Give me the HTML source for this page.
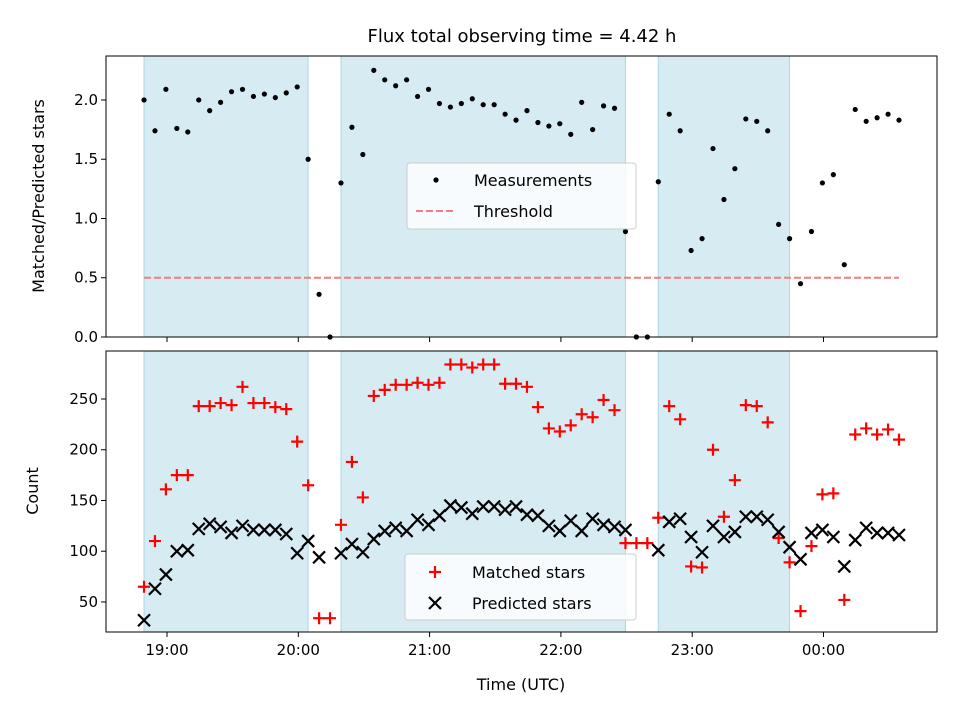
<!DOCTYPE html>
<html><head><meta charset="utf-8"><style>
body{margin:0;background:#fff}
svg{display:block;font-family:"DejaVu Sans","Liberation Sans",sans-serif}
</style></head><body>
<svg id="c" width="960" height="720" viewBox="0 0 960 720"></svg>
<script>
const times=[49.5,54.5,59.5,64.5,69.5,74.5,79.5,84.5,89.5,94.5,99.5,104.5,109.5,114.5,119.5,124.5,129.5,134.5,139.5,144.5,149.5,154.5,159.5,164.5,169.5,174.5,179.5,184.5,189.5,194.5,199.5,204.5,209.5,214.5,219.5,224.5,229.5,234.5,239.5,244.5,249.5,254.5,259.5,264.5,269.5,274.5,279.5,284.5,289.5,294.5,299.5,304.5,309.5,314.5,319.5,324.5,329.5,334.5,339.5,344.5,349.5,354.5,359.5,364.5,369.5,374.5,379.5,384.5,389.5,394.5];
const ratio=[2.0,1.74,2.09,1.76,1.73,2.0,1.91,1.98,2.07,2.09,2.03,2.05,2.02,2.06,2.11,1.50,0.36,0,1.30,1.77,1.54,2.25,2.17,2.12,2.17,2.03,2.09,1.97,1.94,1.97,2.01,1.96,1.96,1.88,1.83,1.91,1.81,1.78,1.80,1.71,1.98,1.75,1.95,1.93,0.89,0,0,1.31,1.88,1.74,0.73,0.83,1.59,1.16,1.42,1.84,1.82,1.74,0.95,0.83,0.45,0.89,1.30,1.37,0.61,1.92,1.82,1.85,1.88,1.83];
const matched=[65,110,161,175,175,243,243,246,244,262,246,246,242,240,208,165,34,34,126,188,153,253,259,264,264,266,264,266,284,284,281,284,284,265,265,262,242,221,218,224,235,232,249,239,108,108,108,133,243,230,85,84,200,134,170,244,243,227,113,89,41,105,156,157,52,215,221,215,220,210];
const predicted=[32,63,77,100,101,122,127,124,118,125,121,121,121,117,98,110,94,null,98,107,99,112,120,123,120,131,126,135,145,143,137,144,144,141,144,136,135,125,120,130,120,132,126,124,121,null,null,101,129,132,114,99,125,114,119,134,134,131,119,104,92,118,121,114,85,111,123,118,118,116];
const spans=[[49.5,124.5],[139.5,269.5],[284.5,344.5]];
const threshold=0.5;
const xTicks=[60,120,180,240,300,360];
const xTickLabels=["19:00","20:00","21:00","22:00","23:00","00:00"];
const topTicks=[0,0.5,1.0,1.5,2.0];
const botTicks=[50,100,150,200,250];

const NS="http://www.w3.org/2000/svg";
const svg=document.getElementById('c');
function el(t,a,p){const e=document.createElementNS(NS,t);for(const k in a)e.setAttribute(k,a[k]);(p||svg).appendChild(e);return e;}
const L=106,R=937;
const X=m=>167+(m-60)*131.3/60;
const T={t:56,b:337,min:0,max:2.371};
const B={t:351,b:632,min:20.4,max:297.3};
const Y=(ax,v)=>ax.b-(v-ax.min)/(ax.max-ax.min)*(ax.b-ax.t);

function axesBg(ax,name){
  const g=el('g',{});
  
  
  spans.forEach((s,i)=>{
    const r=el('rect',{x:X(s[0]),y:ax.t,width:X(s[1])-X(s[0]),height:ax.b-ax.t,fill:'#add8e6','fill-opacity':0.5,stroke:'#add8e6','stroke-width':1},g);
    
    
  });
  return g;
}
function frame(ax,ticks,fmt,labelsX,name){
  const g=el('g',{});
  
  
  el('rect',{x:L,y:ax.t,width:R-L,height:ax.b-ax.t,fill:'none',stroke:'#000','stroke-width':1},g);
  ticks.forEach(v=>{const y=Y(ax,v);el('line',{x1:L-5,x2:L,y1:y,y2:y,stroke:'#000'},g);
    const t=el('text',{x:L-8,y:y+5,'text-anchor':'end','font-size':15},g);t.textContent=fmt(v);
    });
  xTicks.forEach((m,i)=>{const x=X(m);el('line',{x1:x,x2:x,y1:ax.b,y2:ax.b+5,stroke:'#000'},g);
    if(labelsX){const t=el('text',{x:x,y:ax.b+23,'text-anchor':'middle','font-size':15},g);t.textContent=xTickLabels[i];
    }});
}
// top
axesBg(T,'top-spans');
const th=el('line',{x1:X(times[0]),x2:X(times[times.length-1]),y1:Y(T,threshold),y2:Y(T,threshold),stroke:'#f08080','stroke-width':2,'stroke-dasharray':'7,3'});

ratio.forEach((v,i)=>{if(v==null)return;const c=el('circle',{cx:X(times[i]),cy:Y(T,v),r:2.6,fill:'#000'});
  });
frame(T,topTicks,v=>v.toFixed(1),false,'top-axes');
// bottom
axesBg(B,'bottom-spans');
matched.forEach((v,i)=>{if(v==null)return;const x=X(times[i]),y=Y(B,v);
  const p=el('path',{d:`M${x-6} ${y}H${x+6}M${x} ${y-6}V${y+6}`,stroke:'#f00','stroke-width':2.2});
  });
predicted.forEach((v,i)=>{if(v==null)return;const x=X(times[i]),y=Y(B,v);
  const p=el('path',{d:`M${x-6} ${y-6}L${x+6} ${y+6}M${x-6} ${y+6}L${x+6} ${y-6}`,stroke:'#000','stroke-width':2.2});
  });
frame(B,botTicks,v=>String(v),true,'bottom-axes');
</script>
<svg width="960" height="720" style="position:absolute;left:0;top:0" font-family="DejaVu Sans, Liberation Sans, sans-serif">
<text x="522" y="42" text-anchor="middle" font-size="18">Flux total observing time = 4.42 h</text>
<text transform="translate(44,196) rotate(-90)" text-anchor="middle" font-size="16">Matched/Predicted stars</text>
<text transform="translate(38,491) rotate(-90)" text-anchor="middle" font-size="16">Count</text>
<text x="521" y="690" text-anchor="middle" font-size="16">Time (UTC)</text>
<g>
<rect x="407" y="163" width="229" height="66" rx="3" fill="#fff" fill-opacity="0.8" stroke="#ccc"/>
<circle cx="436" cy="180" r="2.6" fill="#000"/>
<text x="474" y="186" font-size="16">Measurements</text>
<line x1="416" x2="456" y1="211" y2="211" stroke="#f08080" stroke-width="2" stroke-dasharray="7,3"/>
<text x="474" y="217" font-size="16">Threshold</text>
</g>
<g>
<rect x="405" y="554" width="231" height="66" rx="3" fill="#fff" fill-opacity="0.8" stroke="#ccc"/>
<path d="M429 572H441M435 566V578" stroke="#f00" stroke-width="2.2"/>
<text x="472" y="578" font-size="16">Matched stars</text>
<path d="M429 597L441 609M429 609L441 597" stroke="#000" stroke-width="2.2"/>
<text x="472" y="609" font-size="16">Predicted stars</text>
</g>
</svg>
</body></html>
